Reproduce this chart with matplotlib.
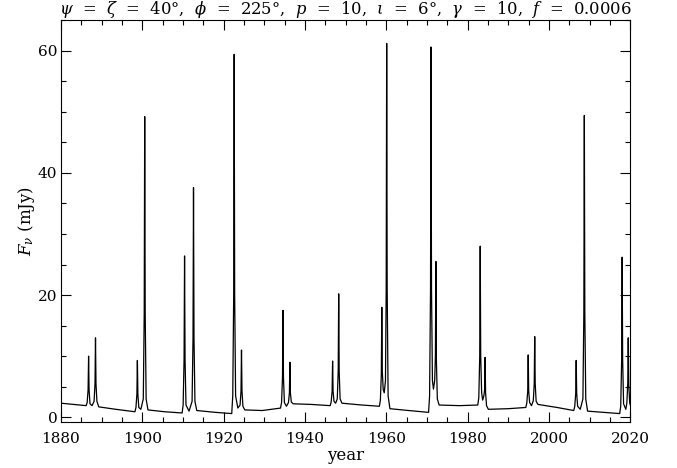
import matplotlib
matplotlib.use('Agg')
import matplotlib.pyplot as plt
from matplotlib.ticker import MultipleLocator

plt.rcParams['font.family'] = ['DejaVu Serif']
plt.rcParams['mathtext.fontset'] = 'dejavuserif'

# light curve vertices, one row per outburst pair
year = [
    1880.0, 1883.0, 1886.2,
    1886.45, 1886.68, 1886.8, 1886.92, 1887.15, 1887.65,
    1888.15, 1888.38, 1888.5, 1888.62, 1888.85, 1889.3, 1893.5, 1898.2,
    1898.45, 1898.68, 1898.8, 1898.92, 1899.15, 1899.65,
    1900.25, 1900.48, 1900.6, 1900.72, 1900.95, 1901.4, 1905.5, 1909.8,
    1910.05, 1910.28, 1910.4, 1910.52, 1910.75, 1911.5,
    1912.25, 1912.48, 1912.6, 1912.72, 1912.95, 1913.4, 1918.0, 1922.0,
    1922.25, 1922.48, 1922.6, 1922.72, 1922.95, 1923.5,
    1924.05, 1924.28, 1924.4, 1924.52, 1924.75, 1925.2, 1929.5, 1934.0,
    1934.25, 1934.48, 1934.6, 1934.72, 1934.95, 1935.45,
    1935.95, 1936.18, 1936.3, 1936.42, 1936.65, 1937.1, 1941.5, 1946.2,
    1946.45, 1946.68, 1946.8, 1946.92, 1947.15, 1947.55,
    1947.95, 1948.18, 1948.3, 1948.42, 1948.65, 1949.1, 1954.0, 1958.3,
    1958.55, 1958.78, 1958.9, 1959.02, 1959.25, 1959.5,
    1959.8, 1959.98, 1960.1, 1960.22, 1960.45, 1960.9, 1965.5, 1970.4,
    1970.65, 1970.88, 1971.0, 1971.12, 1971.35, 1971.6,
    1971.9, 1972.08, 1972.2, 1972.32, 1972.55, 1973.0, 1978.0, 1982.5,
    1982.75, 1982.98, 1983.1, 1983.22, 1983.45, 1983.7,
    1984.0, 1984.18, 1984.3, 1984.42, 1984.65, 1985.1, 1990.0, 1994.3,
    1994.55, 1994.78, 1994.9, 1995.02, 1995.25, 1995.7,
    1996.15, 1996.38, 1996.5, 1996.62, 1996.85, 1997.3, 2002.0, 2006.1,
    2006.35, 2006.58, 2006.7, 2006.82, 2007.05, 2007.7,
    2008.35, 2008.58, 2008.7, 2008.82, 2009.05, 2009.5, 2013.5, 2017.4,
    2017.65, 2017.88, 2018.0, 2018.12, 2018.35, 2018.9,
    2019.15, 2019.38, 2019.5, 2019.62, 2019.85, 2020.0,
]
flux = [
    2.3, 2.1, 1.9,
    2.4, 4.5, 10.0, 4.5, 2.2, 1.9,
    2.6, 5.5, 13.0, 5.5, 2.6, 1.7, 1.3, 0.9,
    1.6, 3.8, 9.3, 3.8, 1.6, 1.3,
    3.0, 17.0, 49.2, 17.0, 3.0, 1.2, 0.9, 0.7,
    2.0, 9.5, 26.4, 9.5, 2.0, 1.0,
    2.6, 13.0, 37.6, 13.0, 2.6, 1.1, 0.8, 0.6,
    3.5, 20.0, 59.4, 20.0, 3.5, 1.5,
    2.0, 4.3, 11.0, 4.3, 1.8, 1.2, 1.1, 1.5,
    2.4, 6.5, 17.5, 6.5, 2.4, 1.8,
    2.4, 4.0, 9.0, 4.0, 2.5, 2.2, 2.1, 1.9,
    2.5, 4.2, 9.2, 4.2, 2.6, 2.3,
    3.0, 7.5, 20.2, 7.5, 3.0, 2.3, 2.0, 1.8,
    2.8, 7.0, 18.0, 7.5, 4.5, 4.0,
    6.0, 21.0, 61.2, 21.0, 3.5, 1.4, 1.1, 0.8,
    3.5, 21.0, 60.6, 21.0, 6.0, 4.6,
    6.0, 10.0, 25.5, 9.5, 3.0, 2.0, 1.9, 2.0,
    3.2, 10.0, 28.0, 10.0, 4.0, 2.8,
    3.5, 4.5, 9.8, 4.0, 1.9, 1.3, 1.4, 1.6,
    2.3, 4.3, 10.2, 4.3, 2.4, 1.9,
    2.7, 5.5, 13.2, 5.5, 2.6, 2.1, 1.6, 1.1,
    1.8, 3.9, 9.3, 3.9, 1.8, 1.3,
    3.0, 17.0, 49.4, 17.0, 3.0, 1.0, 0.8, 0.6,
    1.8, 9.5, 26.2, 9.5, 2.2, 1.3,
    2.3, 5.5, 13.0, 5.5, 2.4, 2.0,
]

title = (r'$\psi$  =  $\zeta$  =  40°,  $\phi$  =  225°,  $p$  =  10,  '
         r'$\iota$  =  6°,  $\gamma$  =  10,  $f$  =  0.0006')

fig = plt.figure(figsize=(6.77, 4.68), dpi=100)
ax = fig.add_axes([0.090, 0.098, 0.841, 0.859])
ax.plot(year, flux, color='black', lw=0.9)

ax.set_xlim(1880, 2020)
ax.set_ylim(-0.8, 65)
ax.xaxis.set_major_locator(MultipleLocator(20))
ax.xaxis.set_minor_locator(MultipleLocator(5))
ax.yaxis.set_major_locator(MultipleLocator(20))
ax.yaxis.set_minor_locator(MultipleLocator(5))
ax.tick_params(which='both', direction='in', top=True, right=True,
               labelsize=11, width=0.8)
ax.tick_params(axis='x', pad=7)
ax.tick_params(axis='y', pad=2.5)
ax.tick_params(which='major', length=7)
ax.tick_params(which='minor', length=3.5)
for s in ax.spines.values():
    s.set_linewidth(0.8)

ax.set_xlabel('year', fontsize=12, labelpad=1)
ax.set_ylabel(r'$F_\nu$ (mJy)', fontsize=12, labelpad=1)
ax.set_title(title, fontsize=11.8, pad=3)

fig.savefig('out.png', dpi=100)
plt.close(fig)
